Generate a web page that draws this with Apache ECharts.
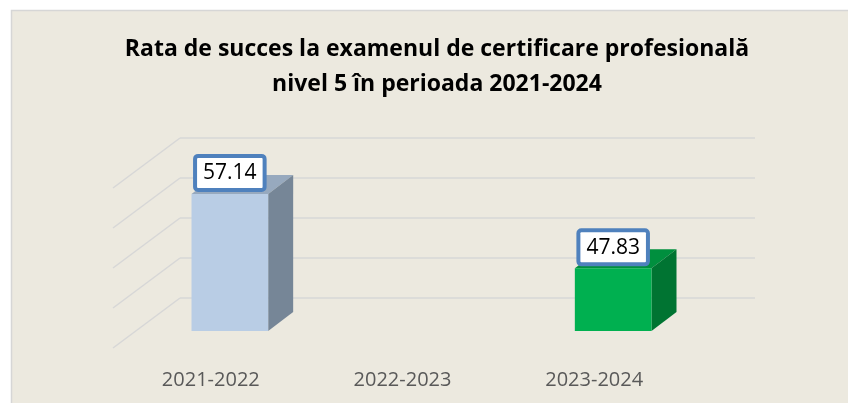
<!DOCTYPE html>
<html><head><meta charset="utf-8">
<script src="https://cdn.jsdelivr.net/npm/echarts@6/dist/echarts.min.js"></script>
<style>html,body{margin:0;padding:0;background:#fff}#c{width:848px;height:403px}</style>
</head><body><div id="c"></div>
<script>
// ---- data ----
const categories = ['2021-2022', '2022-2023', '2023-2024'];
const values = [57.14, null, 47.83];
const yMin = 40, yMax = 60, yInterval = 5;
const yTicks = [40, 45, 50, 55, 60];
const titleText = 'Rata de succes la examenul de certificare profesională\nnivel 5 în perioada 2021-2024';

// ---- style ----
const palette = [
  {front: '#B9CDE5', top: '#97A9BE', side: '#768697'},
  {front: '#B9CDE5', top: '#97A9BE', side: '#768697'},
  {front: '#00B050', top: '#008F3E', side: '#007432'}
];
const FRONT = [-46, 33], BACK = [-21, 14], FLOOR = [-67, 50];

const chart = echarts.init(document.getElementById('c'));
chart.setOption({
  backgroundColor: '#ffffff',
  animation: false,
  graphic: [
    {type: 'rect', z: -10, shape: {x: 11.5, y: 10.5, width: 860, height: 420},
     style: {fill: '#ECE9DF', stroke: '#D6D6D6', lineWidth: 1.5}},
    {type: 'text', x: 437, y: 67, z: 10,
     style: {text: titleText, align: 'center', verticalAlign: 'middle',
             font: 'bold 23px "Open Sans"', lineHeight: 35, fill: '#000'}}
  ],
  grid: {left: 180, right: 93, top: 138, bottom: 105},
  xAxis: {
    type: 'category', data: categories,
    axisLine: {show: false}, axisTick: {show: false},
    axisLabel: {margin: 72, padding: [0, 130, 0, 0], color: '#595959',
                fontFamily: 'Open Sans', fontSize: 20},
    splitLine: {show: false}
  },
  yAxis: {
    type: 'value', min: yMin, max: yMax, interval: yInterval,
    axisLine: {show: false}, axisTick: {show: false}, axisLabel: {show: false},
    splitLine: {lineStyle: {color: '#D7D7D7', width: 1.5}}
  },
  series: [
    {
      type: 'custom', data: yTicks.map(v => [0, v]), silent: true,
      renderItem: function (params, api) {
        const p = api.coord([0, api.value(1)]);
        const x0 = params.coordSys.x;
        return {type: 'line', shape: {x1: x0, y1: p[1], x2: x0 + FLOOR[0], y2: p[1] + FLOOR[1]},
                style: {stroke: '#D7D7D7', lineWidth: 1.5}};
      }
    },
    {
      type: 'custom', data: values.map((v, i) => [i, v]),
      renderItem: function (params, api) {
        const v = api.value(1);
        if (v == null || isNaN(v)) return null;
        const i = api.value(0);
        const t = api.coord([i, v]);
        const b = api.coord([i, yMin]);
        const hw = api.size([1, 0])[0] * 0.2;
        const c = palette[i];
        const fL = t[0] + FRONT[0] - hw, fR = t[0] + FRONT[0] + hw;
        const fT = t[1] + FRONT[1], fB = b[1] + FRONT[1];
        const bL = t[0] + BACK[0] - hw, bR = t[0] + BACK[0] + hw;
        const bT = t[1] + BACK[1], bB = b[1] + BACK[1];
        return {
          type: 'group',
          children: [
            {type: 'polygon', shape: {points: [[fL, fT], [fR, fT], [bR, bT], [bL, bT]]}, style: {fill: c.top}},
            {type: 'polygon', shape: {points: [[fR, fT], [bR, bT], [bR, bB], [fR, fB]]}, style: {fill: c.side}},
            {type: 'rect', shape: {x: fL, y: fT, width: fR - fL, height: fB - fT}, style: {fill: c.front}},
            {type: 'text', x: t[0] + FRONT[0], y: fT - 6, z2: 10,
             style: {text: v.toFixed(2), align: 'center', verticalAlign: 'bottom',
                     font: '21px "Open Sans"', fill: '#000', backgroundColor: '#fff',
                     borderColor: '#4F81BD', borderWidth: 4, borderRadius: 1,
                     padding: [5, 6, 4, 6]}}
          ]
        };
      }
    }
  ]
});
</script></body></html>
